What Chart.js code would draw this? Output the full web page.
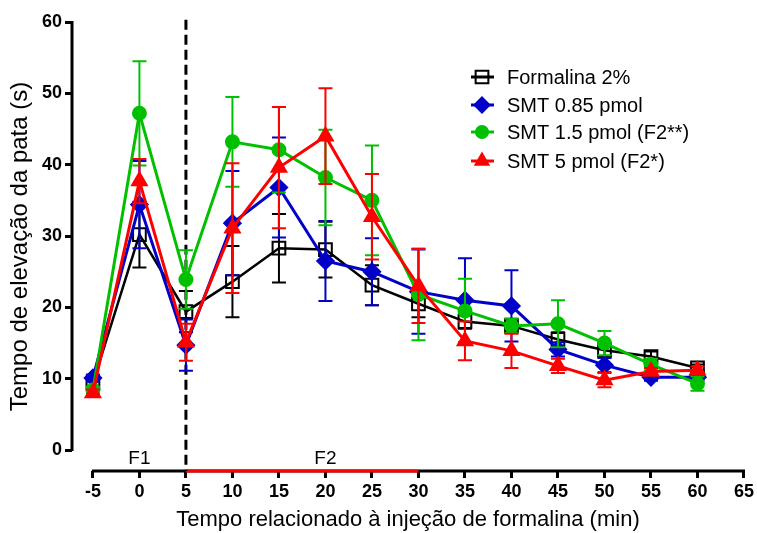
<!DOCTYPE html>
<html>
<head>
<meta charset="utf-8">
<script src="https://cdn.jsdelivr.net/npm/chart.js@4.4.1/dist/chart.umd.min.js"></script>
<style>
  html, body { margin: 0; padding: 0; background: #fff; }
  #wrap { width: 757px; height: 533px; position: relative; }
</style>
</head>
<body>
<div id="wrap"><canvas id="grafico"></canvas></div>
<script>
// Dados
const tempos = [-5, 0, 5, 10, 15, 20, 25, 30, 35, 40, 45, 50, 55, 60];
const xTicks = [-5, 0, 5, 10, 15, 20, 25, 30, 35, 40, 45, 50, 55, 60, 65];
const yTicks = [0, 10, 20, 30, 40, 50, 60];

const formalina    = [9.4, 30.2, 19.4, 23.6, 28.3, 28.1, 23.1, 20.5, 18.0, 17.4, 15.5, 14.0, 13.1, 11.5];
const formalinaErr = [0.5, 4.6, 2.9, 5.0, 4.8, 3.9, 2.8, 1.9, 1.0, 1.0, 1.0, 1.0, 0.7, 0.5];

const smt085    = [10.1, 34.4, 14.7, 31.8, 36.8, 26.5, 25.0, 22.2, 21.0, 20.2, 14.1, 11.9, 10.2, 10.2];
const smt085Err = [0.5, 6.1, 3.6, 7.3, 7.0, 5.6, 4.7, 5.9, 5.9, 5.0, 1.0, 1.0, 0.5, 0.5];

const smt15    = [8.4, 47.2, 23.9, 43.2, 42.1, 38.2, 35.0, 21.8, 19.5, 17.4, 17.7, 15.0, 12.0, 9.3];
const smt15Err = [0.5, 7.3, 4.1, 6.3, 6.0, 6.7, 7.7, 6.4, 4.5, 1.0, 3.3, 1.7, 0.8, 1.0];

const smt5    = [8.0, 37.7, 15.1, 31.1, 39.6, 44.0, 32.7, 23.0, 15.3, 13.9, 11.8, 9.8, 11.0, 11.2];
const smt5Err = [0.5, 3.1, 2.6, 9.1, 8.5, 6.7, 6.0, 5.2, 2.7, 2.4, 1.0, 1.0, 0.5, 0.5];

const nomes = ['Formalina 2%', 'SMT 0.85 pmol', 'SMT 1.5 pmol (F2**)', 'SMT 5 pmol (F2*)'];

const PRETO = '#000000';
const AZUL = '#0000C8';
const VERDE = '#00C000';
const VERMELHO = '#FF0000';
const FONTE = '"Liberation Sans", Arial, sans-serif';

function pontos(ys) {
    return tempos.map((t, i) => ({ x: t, y: ys[i] }));
}

const erros = [formalinaErr, smt085Err, smt15Err, smt5Err];

// Barras de erro desenhadas com as escalas do gráfico
const barrasErro = {
    id: 'barrasErro',
    afterDatasetDraw(chart, args) {
        const ds = chart.data.datasets[args.index];
        const err = erros[args.index];
        const xs = chart.scales.x, ys = chart.scales.y;
        const ctx = chart.ctx;
        ctx.save();
        ctx.strokeStyle = ds.borderColor;
        ctx.lineWidth = 2;
        ds.data.forEach((p, i) => {
            const px = xs.getPixelForValue(p.x);
            const top = ys.getPixelForValue(p.y + err[i]);
            const bot = ys.getPixelForValue(p.y - err[i]);
            ctx.beginPath();
            ctx.moveTo(px, top); ctx.lineTo(px, bot);
            ctx.moveTo(px - 7, top); ctx.lineTo(px + 7, top);
            ctx.moveTo(px - 7, bot); ctx.lineTo(px + 7, bot);
            ctx.stroke();
        });
        ctx.restore();
    }
};

// Eixos, linha tracejada, F1/F2 e legenda
const extras = {
    id: 'extras',
    beforeDatasetsDraw(chart) {
        const ctx = chart.ctx;
        const xs = chart.scales.x, ys = chart.scales.y;
        const area = chart.chartArea;
        ctx.save();
        ctx.lineWidth = 3;
        ctx.strokeStyle = PRETO;
        // eixo y
        ctx.beginPath();
        ctx.moveTo(area.left, ys.getPixelForValue(60) - 1);
        ctx.lineTo(area.left, ys.getPixelForValue(0) + 1);
        ctx.stroke();
        // eixo x
        ctx.beginPath();
        ctx.moveTo(xs.getPixelForValue(-5) - 1, area.bottom);
        ctx.lineTo(xs.getPixelForValue(65) + 1, area.bottom);
        ctx.stroke();
        ctx.strokeStyle = VERMELHO;
        ctx.beginPath();
        ctx.moveTo(xs.getPixelForValue(5), area.bottom);
        ctx.lineTo(xs.getPixelForValue(30), area.bottom);
        ctx.stroke();
        // linha tracejada em 5 min
        ctx.strokeStyle = PRETO;
        ctx.setLineDash([10, 5]);
        ctx.beginPath();
        ctx.moveTo(xs.getPixelForValue(5), ys.getPixelForValue(60.3));
        ctx.lineTo(xs.getPixelForValue(5), area.bottom);
        ctx.stroke();
        ctx.setLineDash([]);
        // F1 / F2
        ctx.fillStyle = PRETO;
        ctx.font = '19px ' + FONTE;
        ctx.textAlign = 'center';
        ctx.textBaseline = 'middle';
        ctx.fillText('F1', xs.getPixelForValue(0), area.bottom - 12);
        ctx.fillText('F2', xs.getPixelForValue(20), area.bottom - 12);
        ctx.restore();
    },
    afterDraw(chart) {
        const ctx = chart.ctx;
        ctx.save();
        const linhasY = [77, 105, 132, 161];
        chart.data.datasets.forEach((ds, i) => {
            const y = linhasY[i];
            ctx.strokeStyle = ds.borderColor;
            ctx.lineWidth = 3;
            ctx.beginPath();
            ctx.moveTo(471, y); ctx.lineTo(494, y);
            ctx.stroke();
            ctx.fillStyle = ds.pointBackgroundColor;
            ctx.strokeStyle = ds.borderColor;
            ctx.lineWidth = 2;
            Chart.helpers.drawPoint(ctx, {
                pointStyle: ds.pointStyle,
                radius: ds.pointRadius,
                borderWidth: 2,
                rotation: 0
            }, 482, y);
            ctx.fillStyle = PRETO;
            ctx.font = '20px ' + FONTE;
            ctx.textAlign = 'left';
            ctx.textBaseline = 'middle';
            ctx.fillText(nomes[i], 507, y + 1);
        });
        ctx.restore();
    }
};

const ctx = document.getElementById('grafico').getContext('2d');
new Chart(ctx, {
    type: 'line',
    data: {
        datasets: [
            {
                label: nomes[0], data: pontos(formalina),
                borderColor: PRETO, borderWidth: 2.5,
                pointStyle: 'rect', pointRadius: 9, pointBorderWidth: 2,
                pointBackgroundColor: 'rgba(0,0,0,0)', pointBorderColor: PRETO,
                order: 4
            },
            {
                label: nomes[1], data: pontos(smt085),
                borderColor: AZUL, borderWidth: 3,
                pointStyle: 'rectRot', pointRadius: 7.5,
                pointBackgroundColor: AZUL, pointBorderColor: AZUL,
                order: 3
            },
            {
                label: nomes[2], data: pontos(smt15),
                borderColor: VERDE, borderWidth: 3,
                pointStyle: 'circle', pointRadius: 6,
                pointBackgroundColor: VERDE, pointBorderColor: VERDE,
                order: 2
            },
            {
                label: nomes[3], data: pontos(smt5),
                borderColor: VERMELHO, borderWidth: 3,
                pointStyle: 'triangle', pointRadius: 7.5,
                pointBackgroundColor: VERMELHO, pointBorderColor: VERMELHO,
                order: 1
            }
        ]
    },
    options: {
        responsive: true,
        maintainAspectRatio: false,
        animation: false,
        layout: { padding: { top: 22, right: 12, left: 0, bottom: 0 } },
        elements: { line: { tension: 0 } },
        scales: {
            x: {
                type: 'linear',
                min: -7.25,
                max: 65,
                afterBuildTicks: (scale) => { scale.ticks = xTicks.map(v => ({ value: v })); },
                afterFit: (scale) => { scale.height = 62; },
                border: { display: false },
                grid: { drawOnChartArea: false, drawTicks: true, tickLength: 7, color: PRETO, lineWidth: 3 },
                ticks: {
                    color: PRETO, padding: 3, maxRotation: 0, autoSkip: false,
                    font: { family: FONTE, size: 18, weight: 'bold' }
                },
                title: {
                    display: true,
                    text: 'Tempo relacionado à injeção de formalina (min)',
                    color: PRETO,
                    padding: { top: 0, bottom: 0 },
                    font: { family: FONTE, size: 22 }
                }
            },
            y: {
                min: -2.94,
                max: 60,
                afterBuildTicks: (scale) => { scale.ticks = yTicks.map(v => ({ value: v })); },
                afterFit: (scale) => { scale.width = 72; },
                border: { display: false },
                grid: { drawOnChartArea: false, drawTicks: true, tickLength: 7, color: PRETO, lineWidth: 3 },
                ticks: {
                    color: PRETO, padding: 3,
                    font: { family: FONTE, size: 18, weight: 'bold' }
                },
                title: {
                    display: true,
                    text: 'Tempo de elevação da pata (s)',
                    color: PRETO,
                    padding: { top: 6, bottom: 0 },
                    font: { family: FONTE, size: 24 }
                }
            }
        },
        plugins: {
            legend: { display: false },
            tooltip: { enabled: false }
        }
    },
    plugins: [extras, barrasErro]
});
</script>
</body>
</html>
